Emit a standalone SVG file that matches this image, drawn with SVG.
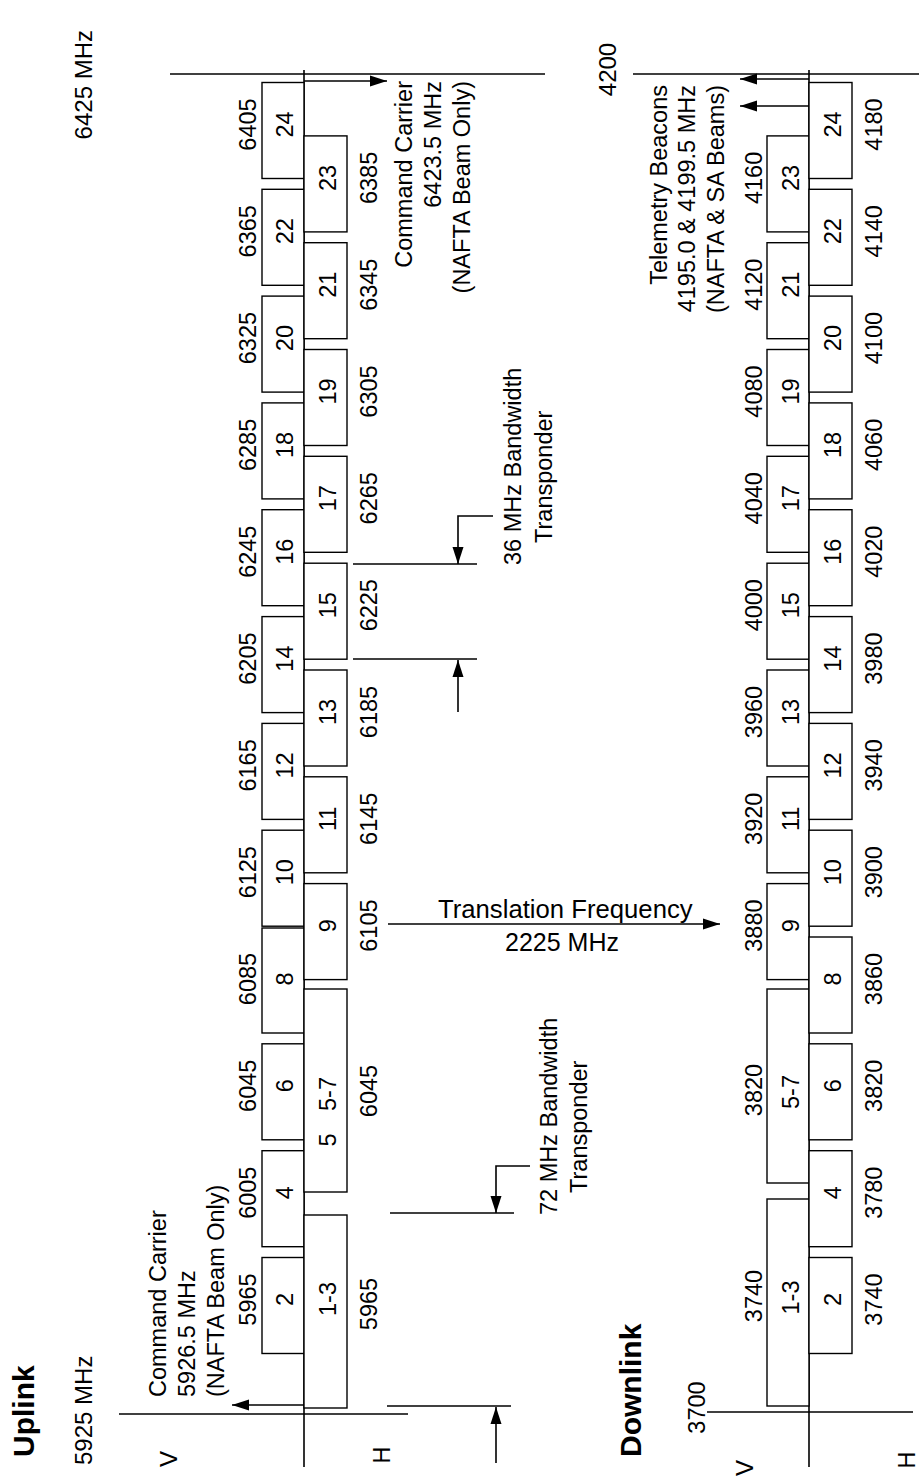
<svg xmlns="http://www.w3.org/2000/svg" width="919" height="1480" viewBox="0 0 919 1480">
<style>
.bg{fill:#fff}
.box{fill:#fff;stroke:#000;stroke-width:1.4}
.ln{stroke:#000;stroke-width:1.6;fill:none}
.ar{stroke:#000;stroke-width:1.6;fill:none;marker-end:url(#ah)}
text{font-family:"Liberation Sans",Arial,sans-serif;font-size:23.5px;fill:#000}
.m{text-anchor:middle}
.e{text-anchor:end}
.b{font-weight:bold;font-size:30px}
.big{font-size:24px}
</style>
<defs>
<marker id="ah" markerUnits="userSpaceOnUse" markerWidth="18" markerHeight="12" refX="17" refY="6" orient="auto">
<path d="M0,0.5 L17,6 L0,11.5 z" fill="#000"/>
</marker>
</defs>
<rect class="bg" x="0" y="0" width="919" height="1480"/>

<!-- ===== UPLINK ===== -->
<g id="uplink-frame">
<line class="ln" x1="304" y1="70" x2="304" y2="1467"/>
<line class="ln" x1="119" y1="1414" x2="408" y2="1414"/>
<line class="ln" x1="170" y1="74" x2="545" y2="74"/>
<text class="b" transform="translate(34,1457) rotate(-90)">Uplink</text>
<text class="big" transform="translate(92,1465) rotate(-90)">5925 MHz</text>
<text class="big e" transform="translate(92,30) rotate(-90)">6425 MHz</text>
<text class="big m" transform="translate(177,1459) rotate(-90)">V</text>
<text class="m" transform="translate(390,1455) rotate(-90)">H</text>
</g>

<g id="uplink-V">
<rect class="box" x="262" y="1257.5" width="42" height="96"/>
<rect class="box" x="262" y="1150.7" width="42" height="96"/>
<rect class="box" x="262" y="1043.8" width="42" height="96"/>
<rect class="box" x="262" y="928" width="42" height="105"/>
<rect class="box" x="262" y="830.2" width="42" height="96"/>
<rect class="box" x="262" y="723.4" width="42" height="96"/>
<rect class="box" x="262" y="616.6" width="42" height="96"/>
<rect class="box" x="262" y="509.7" width="42" height="96"/>
<rect class="box" x="262" y="402.9" width="42" height="96"/>
<rect class="box" x="262" y="296.1" width="42" height="96"/>
<rect class="box" x="262" y="189.3" width="42" height="96"/>
<rect class="box" x="262" y="82.5" width="42" height="96"/>
<text class="m" transform="translate(293,1299.5) rotate(-90)">2</text>
<text class="m" transform="translate(293,1192.7) rotate(-90)">4</text>
<text class="m" transform="translate(293,1085.8) rotate(-90)">6</text>
<text class="m" transform="translate(293,979) rotate(-90)">8</text>
<text class="m" transform="translate(293,872.2) rotate(-90)">10</text>
<text class="m" transform="translate(293,765.4) rotate(-90)">12</text>
<text class="m" transform="translate(293,658.6) rotate(-90)">14</text>
<text class="m" transform="translate(293,551.7) rotate(-90)">16</text>
<text class="m" transform="translate(293,444.9) rotate(-90)">18</text>
<text class="m" transform="translate(293,338.1) rotate(-90)">20</text>
<text class="m" transform="translate(293,231.3) rotate(-90)">22</text>
<text class="m" transform="translate(293,124.5) rotate(-90)">24</text>
<text class="m" transform="translate(256,1299.5) rotate(-90)">5965</text>
<text class="m" transform="translate(256,1192.7) rotate(-90)">6005</text>
<text class="m" transform="translate(256,1085.8) rotate(-90)">6045</text>
<text class="m" transform="translate(256,979) rotate(-90)">6085</text>
<text class="m" transform="translate(256,872.2) rotate(-90)">6125</text>
<text class="m" transform="translate(256,765.4) rotate(-90)">6165</text>
<text class="m" transform="translate(256,658.6) rotate(-90)">6205</text>
<text class="m" transform="translate(256,551.7) rotate(-90)">6245</text>
<text class="m" transform="translate(256,444.9) rotate(-90)">6285</text>
<text class="m" transform="translate(256,338.1) rotate(-90)">6325</text>
<text class="m" transform="translate(256,231.3) rotate(-90)">6365</text>
<text class="m" transform="translate(256,124.5) rotate(-90)">6405</text>
</g>

<g id="uplink-H">
<rect class="box" x="304" y="1215" width="43" height="193"/>
<rect class="box" x="304" y="989" width="43" height="203"/>
<rect class="box" x="304" y="883.6" width="43" height="96"/>
<rect class="box" x="304" y="776.8" width="43" height="96"/>
<rect class="box" x="304" y="670" width="43" height="96"/>
<rect class="box" x="304" y="563.2" width="43" height="96"/>
<rect class="box" x="304" y="456.3" width="43" height="96"/>
<rect class="box" x="304" y="349.5" width="43" height="96"/>
<rect class="box" x="304" y="242.7" width="43" height="96"/>
<rect class="box" x="304" y="135.9" width="43" height="96"/>
<text class="m" transform="translate(336,1299) rotate(-90)">1-3</text>
<text class="m" transform="translate(336,1140) rotate(-90)">5</text>
<text class="m" transform="translate(336,1094) rotate(-90)">5-7</text>
<text class="m" transform="translate(336,925.6) rotate(-90)">9</text>
<text class="m" transform="translate(336,818.8) rotate(-90)">11</text>
<text class="m" transform="translate(336,712) rotate(-90)">13</text>
<text class="m" transform="translate(336,605.2) rotate(-90)">15</text>
<text class="m" transform="translate(336,498.3) rotate(-90)">17</text>
<text class="m" transform="translate(336,391.5) rotate(-90)">19</text>
<text class="m" transform="translate(336,284.7) rotate(-90)">21</text>
<text class="m" transform="translate(336,177.9) rotate(-90)">23</text>
<text class="m" transform="translate(377,1304) rotate(-90)">5965</text>
<text class="m" transform="translate(377,1091) rotate(-90)">6045</text>
<text class="m" transform="translate(377,925.6) rotate(-90)">6105</text>
<text class="m" transform="translate(377,818.8) rotate(-90)">6145</text>
<text class="m" transform="translate(377,712) rotate(-90)">6185</text>
<text class="m" transform="translate(377,605.2) rotate(-90)">6225</text>
<text class="m" transform="translate(377,498.3) rotate(-90)">6265</text>
<text class="m" transform="translate(377,391.5) rotate(-90)">6305</text>
<text class="m" transform="translate(377,284.7) rotate(-90)">6345</text>
<text class="m" transform="translate(377,177.9) rotate(-90)">6385</text>
</g>

<g id="cmd-carrier-low">
<text transform="translate(166,1397) rotate(-90)">Command Carrier</text>
<text transform="translate(195,1397) rotate(-90)">5926.5 MHz</text>
<text transform="translate(224,1397) rotate(-90)">(NAFTA Beam Only)</text>
</g>
<g id="cmd-carrier-high">
<text class="e" transform="translate(412,81) rotate(-90)">Command Carrier</text>
<text class="e" transform="translate(441,81) rotate(-90)">6423.5 MHz</text>
<text class="e" transform="translate(470,81) rotate(-90)">(NAFTA Beam Only)</text>
</g>
<g id="bw36-label">
<text transform="translate(521,565) rotate(-90)">36 MHz Bandwidth</text>
<text transform="translate(552,543) rotate(-90)">Transponder</text>
</g>
<g id="bw72-label">
<text transform="translate(557,1215) rotate(-90)">72 MHz Bandwidth</text>
<text transform="translate(587,1193) rotate(-90)">Transponder</text>
</g>
<g id="translation-label">
<text x="438" y="918" style="font-size:25.7px">Translation Frequency</text>
<text x="505" y="951" style="font-size:25px">2225 MHz</text>
</g>

<!-- ===== DOWNLINK ===== -->
<g id="downlink-frame">
<line class="ln" x1="809" y1="70" x2="809" y2="1467"/>
<line class="ln" x1="707" y1="1412" x2="913" y2="1412"/>
<line class="ln" x1="633" y1="74" x2="919" y2="74"/>
<text class="b" transform="translate(641,1457) rotate(-90)">Downlink</text>
<text class="m" transform="translate(705,1407.5) rotate(-90)">3700</text>
<text class="m big" transform="translate(616,69.5) rotate(-90)">4200</text>
<text class="m big" transform="translate(753,1468) rotate(-90)">V</text>
<text class="m" transform="translate(915,1460) rotate(-90)">H</text>
</g>

<g id="downlink-V">
<rect class="box" x="767" y="1199" width="42" height="207"/>
<rect class="box" x="767" y="989" width="42" height="194"/>
<rect class="box" x="767" y="883.6" width="42" height="96"/>
<rect class="box" x="767" y="776.8" width="42" height="96"/>
<rect class="box" x="767" y="670" width="42" height="96"/>
<rect class="box" x="767" y="563.2" width="42" height="96"/>
<rect class="box" x="767" y="456.3" width="42" height="96"/>
<rect class="box" x="767" y="349.5" width="42" height="96"/>
<rect class="box" x="767" y="242.7" width="42" height="96"/>
<rect class="box" x="767" y="135.9" width="42" height="96"/>
<text class="m" transform="translate(799,1297.5) rotate(-90)">1-3</text>
<text class="m" transform="translate(799,1092) rotate(-90)">5-7</text>
<text class="m" transform="translate(799,925.6) rotate(-90)">9</text>
<text class="m" transform="translate(799,818.8) rotate(-90)">11</text>
<text class="m" transform="translate(799,712) rotate(-90)">13</text>
<text class="m" transform="translate(799,605.2) rotate(-90)">15</text>
<text class="m" transform="translate(799,498.3) rotate(-90)">17</text>
<text class="m" transform="translate(799,391.5) rotate(-90)">19</text>
<text class="m" transform="translate(799,284.7) rotate(-90)">21</text>
<text class="m" transform="translate(799,177.9) rotate(-90)">23</text>
<text class="m" transform="translate(762,1296) rotate(-90)">3740</text>
<text class="m" transform="translate(762,1090) rotate(-90)">3820</text>
<text class="m" transform="translate(762,925.6) rotate(-90)">3880</text>
<text class="m" transform="translate(762,818.8) rotate(-90)">3920</text>
<text class="m" transform="translate(762,712) rotate(-90)">3960</text>
<text class="m" transform="translate(762,605.2) rotate(-90)">4000</text>
<text class="m" transform="translate(762,498.3) rotate(-90)">4040</text>
<text class="m" transform="translate(762,391.5) rotate(-90)">4080</text>
<text class="m" transform="translate(762,284.7) rotate(-90)">4120</text>
<text class="m" transform="translate(762,177.9) rotate(-90)">4160</text>
</g>

<g id="downlink-H">
<rect class="box" x="809" y="1257.5" width="43" height="96"/>
<rect class="box" x="809" y="1150.7" width="43" height="96"/>
<rect class="box" x="809" y="1043.8" width="43" height="96"/>
<rect class="box" x="809" y="937" width="43" height="96"/>
<rect class="box" x="809" y="830.2" width="43" height="96"/>
<rect class="box" x="809" y="723.4" width="43" height="96"/>
<rect class="box" x="809" y="616.6" width="43" height="96"/>
<rect class="box" x="809" y="509.7" width="43" height="96"/>
<rect class="box" x="809" y="402.9" width="43" height="96"/>
<rect class="box" x="809" y="296.1" width="43" height="96"/>
<rect class="box" x="809" y="189.3" width="43" height="96"/>
<rect class="box" x="809" y="82.5" width="43" height="96"/>
<text class="m" transform="translate(841,1299.5) rotate(-90)">2</text>
<text class="m" transform="translate(841,1192.7) rotate(-90)">4</text>
<text class="m" transform="translate(841,1085.8) rotate(-90)">6</text>
<text class="m" transform="translate(841,979) rotate(-90)">8</text>
<text class="m" transform="translate(841,872.2) rotate(-90)">10</text>
<text class="m" transform="translate(841,765.4) rotate(-90)">12</text>
<text class="m" transform="translate(841,658.6) rotate(-90)">14</text>
<text class="m" transform="translate(841,551.7) rotate(-90)">16</text>
<text class="m" transform="translate(841,444.9) rotate(-90)">18</text>
<text class="m" transform="translate(841,338.1) rotate(-90)">20</text>
<text class="m" transform="translate(841,231.3) rotate(-90)">22</text>
<text class="m" transform="translate(841,124.5) rotate(-90)">24</text>
<text class="m" transform="translate(882,1299.5) rotate(-90)">3740</text>
<text class="m" transform="translate(882,1192.7) rotate(-90)">3780</text>
<text class="m" transform="translate(882,1085.8) rotate(-90)">3820</text>
<text class="m" transform="translate(882,979) rotate(-90)">3860</text>
<text class="m" transform="translate(882,872.2) rotate(-90)">3900</text>
<text class="m" transform="translate(882,765.4) rotate(-90)">3940</text>
<text class="m" transform="translate(882,658.6) rotate(-90)">3980</text>
<text class="m" transform="translate(882,551.7) rotate(-90)">4020</text>
<text class="m" transform="translate(882,444.9) rotate(-90)">4060</text>
<text class="m" transform="translate(882,338.1) rotate(-90)">4100</text>
<text class="m" transform="translate(882,231.3) rotate(-90)">4140</text>
<text class="m" transform="translate(882,124.5) rotate(-90)">4180</text>
</g>

<g id="telemetry-label">
<text class="e" transform="translate(667,85) rotate(-90)">Telemetry Beacons</text>
<text class="e" transform="translate(695,85) rotate(-90)">4195.0 &amp; 4199.5 MHz</text>
<text class="e" transform="translate(724,85) rotate(-90)">(NAFTA &amp; SA Beams)</text>
</g>

<!-- ===== CONNECTORS ===== -->
<g id="connectors">
<line class="ar" x1="304" y1="1405" x2="232" y2="1405"/>
<line class="ar" x1="304" y1="81" x2="387" y2="81"/>
<line class="ar" x1="809" y1="79" x2="740" y2="79"/>
<line class="ar" x1="809" y1="106" x2="740" y2="106"/>
<line class="ar" x1="388" y1="924" x2="720" y2="924"/>
<line class="ln" x1="353" y1="564" x2="477" y2="564"/>
<line class="ln" x1="353" y1="659" x2="477" y2="659"/>
<polyline class="ar" points="493,516 458,516 458,564"/>
<line class="ar" x1="458" y1="712" x2="458" y2="660"/>
<line class="ln" x1="390" y1="1213" x2="514" y2="1213"/>
<line class="ln" x1="387" y1="1406" x2="511" y2="1406"/>
<polyline class="ar" points="530,1166 496,1166 496,1213"/>
<line class="ar" x1="496" y1="1463" x2="496" y2="1407"/>
</g>
</svg>
